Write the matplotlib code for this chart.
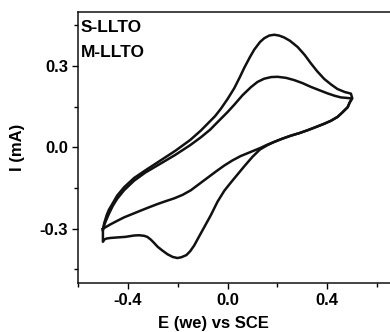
import numpy as np
import matplotlib.pyplot as plt
from matplotlib.ticker import MultipleLocator

plt.rcParams['font.family'] = ['Liberation Sans', 'DejaVu Sans']
plt.rcParams['font.weight'] = 'bold'

# S-LLTO cyclic voltammogram (anodic sweep then cathodic sweep)
e_s = [-0.50, -0.495, -0.485, -0.476, -0.46, -0.443, -0.415, -0.375, -0.33, -0.28, -0.21, -0.15,
       -0.107, -0.05, -0.027, 0.0, 0.027, 0.05, 0.067, 0.09, 0.107, 0.13, 0.147, 0.167, 0.187,
       0.207, 0.227, 0.25, 0.281, 0.31, 0.334, 0.36, 0.388, 0.415, 0.441, 0.47, 0.495, 0.50,
       0.49, 0.482, 0.46, 0.441, 0.415, 0.388, 0.355, 0.321, 0.29, 0.254, 0.22, 0.187, 0.16,
       0.13, 0.10, 0.067, 0.04, 0.013, -0.013, -0.04, -0.067, -0.094, -0.115, -0.134, -0.15,
       -0.165, -0.185, -0.201, -0.22, -0.241, -0.262, -0.281, -0.295, -0.308, -0.322, -0.335,
       -0.355, -0.375, -0.41, -0.441, -0.47, -0.485, -0.495, -0.50, -0.50]
i_s = [-0.305, -0.28, -0.25, -0.23, -0.205, -0.178, -0.147, -0.113, -0.085, -0.055, -0.013, 0.027,
       0.062, 0.115, 0.142, 0.178, 0.218, 0.26, 0.293, 0.333, 0.36, 0.388, 0.402, 0.412, 0.415,
       0.412, 0.405, 0.393, 0.37, 0.34, 0.31, 0.28, 0.252, 0.232, 0.215, 0.204, 0.198, 0.182,
       0.165, 0.148, 0.128, 0.112, 0.098, 0.087, 0.075, 0.063, 0.053, 0.043, 0.032, 0.02, 0.008,
       -0.008, -0.035, -0.07, -0.1, -0.13, -0.16, -0.2, -0.25, -0.295, -0.33, -0.362, -0.383,
       -0.397, -0.405, -0.408, -0.404, -0.394, -0.38, -0.366, -0.352, -0.34, -0.33, -0.326,
       -0.324, -0.325, -0.33, -0.332, -0.334, -0.336, -0.34, -0.348, -0.305]

# M-LLTO cyclic voltammogram
e_m = [-0.50, -0.49, -0.476, -0.46, -0.443, -0.415, -0.375, -0.33, -0.28, -0.21, -0.15, -0.107,
       -0.07, -0.04, 0.0, 0.027, 0.06, 0.094, 0.12, 0.147, 0.175, 0.201, 0.235, 0.267, 0.30,
       0.334, 0.37, 0.401, 0.43, 0.455, 0.48, 0.50,
       0.49, 0.482, 0.46, 0.441, 0.415, 0.388, 0.355, 0.321, 0.29, 0.254, 0.22, 0.187, 0.16,
       0.13, 0.09, 0.053, 0.02, -0.013, -0.045, -0.08, -0.115, -0.147, -0.18, -0.214, -0.25,
       -0.281, -0.315, -0.348, -0.38, -0.415, -0.445, -0.468, -0.485, -0.50]
i_m = [-0.30, -0.275, -0.245, -0.215, -0.19, -0.158, -0.123, -0.093, -0.066, -0.028, 0.008, 0.037,
       0.065, 0.093, 0.13, 0.157, 0.192, 0.222, 0.241, 0.253, 0.259, 0.26, 0.256, 0.248, 0.237,
       0.223, 0.21, 0.199, 0.19, 0.184, 0.182, 0.18,
       0.165, 0.148, 0.128, 0.112, 0.098, 0.087, 0.075, 0.063, 0.053, 0.043, 0.032, 0.02, 0.01,
       -0.003, -0.018, -0.032, -0.048, -0.067, -0.088, -0.112, -0.136, -0.158, -0.175, -0.188,
       -0.199, -0.209, -0.221, -0.233, -0.245, -0.258, -0.272, -0.283, -0.292, -0.30]

fig = plt.figure(figsize=(3.9, 3.32), dpi=100)
ax = fig.add_axes([0.2, 0.1476, 0.8308, 0.8172])

ax.plot(e_s, i_s, color='#111111', lw=1.8, solid_joinstyle='round')
ax.plot(e_m, i_m, color='#111111', lw=1.8, solid_joinstyle='round')

ax.set_xlim(-0.6, 0.7)
ax.set_ylim(-0.5, 0.5)
ax.xaxis.set_major_locator(MultipleLocator(0.4))
ax.xaxis.set_minor_locator(MultipleLocator(0.2))
ax.yaxis.set_major_locator(MultipleLocator(0.3))
ax.yaxis.set_minor_locator(MultipleLocator(0.15))
ax.xaxis.set_major_formatter(lambda v, p: f'{v:.1f}')
ax.yaxis.set_major_formatter(lambda v, p: f'{v:.1f}')
ax.tick_params(which='major', direction='out', length=4, width=1, labelsize=12, pad=3)
ax.tick_params(which='minor', direction='out', length=3, width=1)
ax.tick_params(top=False, right=False)
for sp in ax.spines.values():
    sp.set_linewidth(1.1)
    sp.set_color('#111111')

ax.set_xlabel('E (we) vs SCE', fontsize=12, fontweight='bold')
ax.xaxis.set_label_coords(0.417, -0.12)
ax.set_ylabel('I (mA)', fontsize=12, fontweight='bold')
ax.yaxis.set_label_coords(-0.164, 0.5)

ax.text(0.008, 0.97, 'S-LLTO', transform=ax.transAxes, fontsize=12.5, fontweight='bold', va='top')
ax.text(0.008, 0.878, 'M-LLTO', transform=ax.transAxes, fontsize=12.5, fontweight='bold', va='top')

fig.savefig('out.png', dpi=100)
